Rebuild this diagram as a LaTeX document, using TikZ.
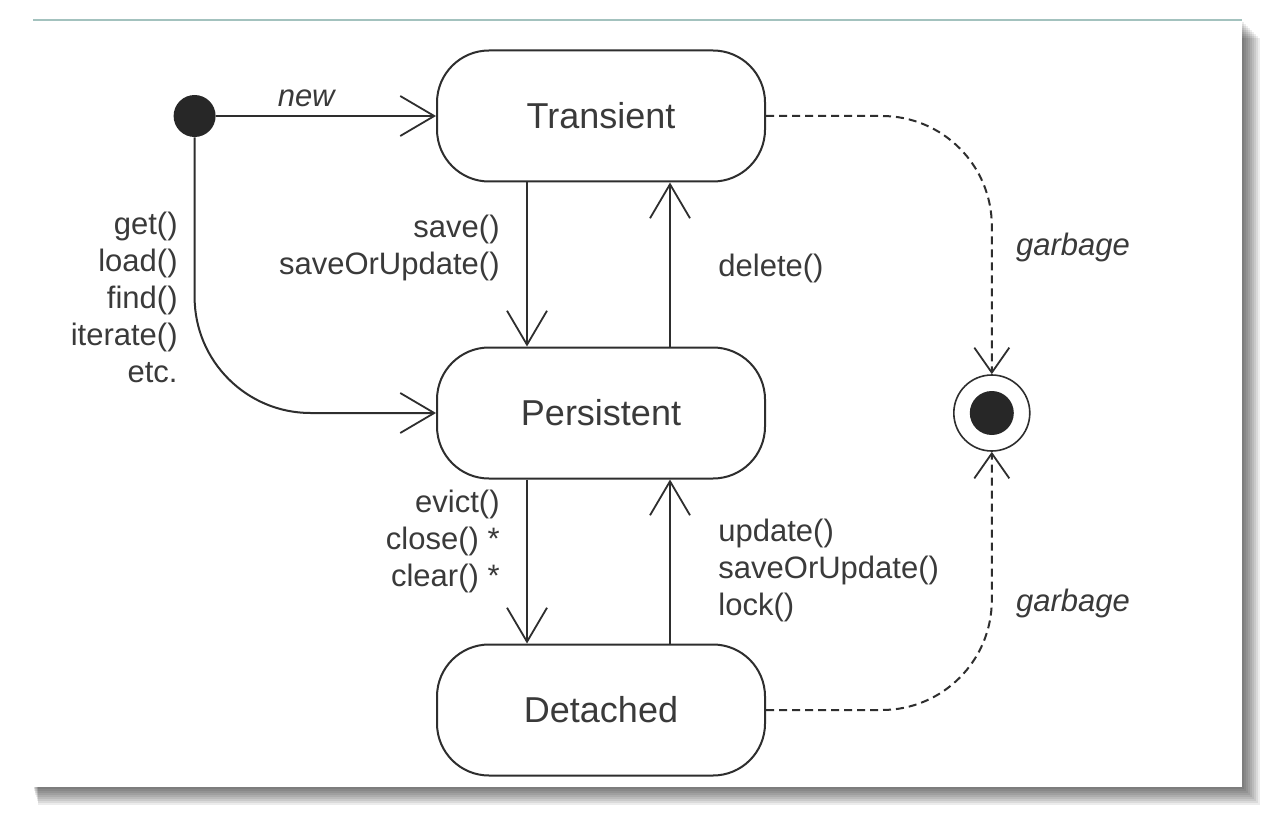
\documentclass[tikz,border=0pt]{standalone}
\usepackage{fontspec}
\setmainfont{Liberation Sans}
\usetikzlibrary{arrows.meta,positioning}
\definecolor{inkgray}{HTML}{2E2E2E}
\definecolor{txtgray}{HTML}{3A3A3A}
\definecolor{cardline}{HTML}{A3C2BE}

\begin{document}
\begin{tikzpicture}[x=0.5pt,y=-0.5pt,
node distance=82pt and 93.5pt,
state/.style={draw=inkgray,line width=1pt,rounded corners=26pt,fill=white,
minimum width=164pt,minimum height=65.5pt,
font=\fontsize{18}{21}\selectfont,text=txtgray},
initdot/.style={circle,fill=inkgray!85!black,inner sep=0pt,minimum size=21pt},
finalring/.style={circle,draw=inkgray,line width=0.8pt,fill=white,inner sep=0pt,minimum size=38pt},
finaldot/.style={circle,fill=inkgray!85!black,inner sep=0pt,minimum size=22pt},
lbl/.style={inner sep=0pt,text=txtgray,font=\fontsize{15.5}{18.5}\selectfont},
ilbl/.style={lbl,font=\fontsize{15.5}{18.5}\selectfont\itshape},
arr/.style={-{Straight Barb[length=17pt,width=20pt,line width=0.9pt]},line width=1pt,draw=inkgray},
gc/.style={-{Straight Barb[length=12.5pt,width=17.5pt,line width=0.9pt]},line width=1pt,
draw=inkgray,dash pattern=on 4pt off 2.5pt}
]
\useasboundingbox (0,0) rectangle (1288,818);
\fill[white] (0,0) rectangle (1288,818);
\foreach \k in {2,4,...,18}
  \fill[black,opacity=0.075] (33+\k*0.3,20+\k) rectangle (1242+\k,787+\k);
\fill[white] (33,20) rectangle (1242,787);
\draw[cardline,line width=1pt] (33,20) -- (1242,20);

\node[state] (trans) at (601,116) {Transient};
\node[state,below=of trans] (pers) {Persistent};
\node[state,below=of pers] (det) {Detached};
\node[initdot,left=110pt of trans] (init) {};
\node[finalring,right=of pers] (final) {};
\node[finaldot] (finalc) at (final) {};

\draw[arr] (init) -- node[ilbl,pos=0.41,above=4pt] (newlbl) {new} (trans);
\draw[arr,rounded corners=58pt] (init) |- (pers.west);
\draw[arr] ([xshift=-37pt]trans.south) -- ([xshift=-37pt]pers.north);
\draw[arr] ([xshift=34.5pt]pers.north) -- ([xshift=34.5pt]trans.south);
\draw[arr] ([xshift=-37pt]pers.south) -- ([xshift=-37pt]det.north);
\draw[arr] ([xshift=34.5pt]det.north) -- ([xshift=34.5pt]pers.south);
\draw[gc,rounded corners=55pt] (trans.east) -| (final.north);
\draw[gc,rounded corners=55pt] (det.east) -| (final.south);

\node[lbl,align=right,anchor=east] (getlbl) at (178,297) {get()\\load()\\find()\\iterate()\\etc.};
\node[lbl,align=right,anchor=east] (savelbl) at (500,248) {save()\\saveOrUpdate()};
\node[lbl,align=left,anchor=west] (dellbl) at (718,268) {delete()};
\node[lbl,align=right,anchor=east] (evictlbl) at (500,541) {evict()\\close() *\\clear() *};
\node[lbl,align=left,anchor=west] (updlbl) at (718,570) {update()\\saveOrUpdate()\\lock()};
\node[ilbl] (garbtop) at (1073,247) {garbage};
\node[ilbl] (garbbot) at (1073,603) {garbage};
\end{tikzpicture}
\end{document}
